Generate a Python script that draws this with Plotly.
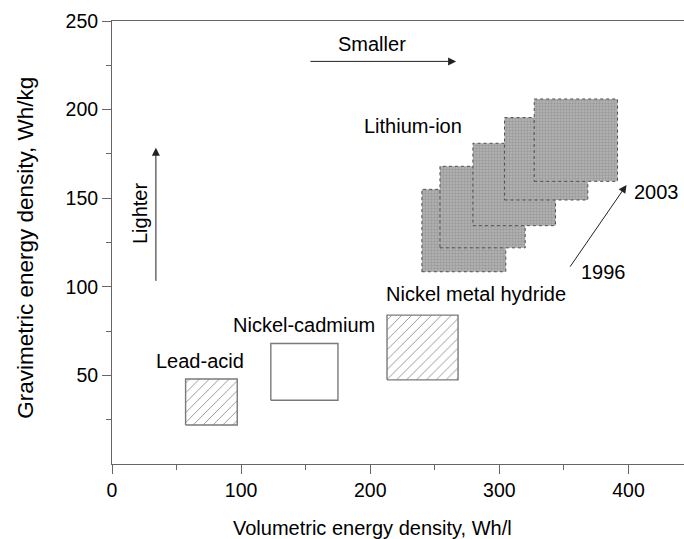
import plotly.graph_objects as go

# Energy-density windows of the main rechargeable chemistries
chemistries = ["Lead-acid", "Nickel-cadmium", "Nickel metal hydride"]
vol_lo = [57, 123, 213]      # Wh/l
vol_hi = [97, 175, 268]
grav_lo = [22, 36, 47.5]     # Wh/kg
grav_hi = [48, 68, 84]
fill_style = ["hatch", "open", "hatch"]

# Lithium-ion windows, 1996 -> 2003
li_vol_lo = [240, 254, 279.5, 304, 327]
li_vol_hi = [305, 320, 343.5, 368.5, 391.5]
li_grav_lo = [108.5, 122, 134.5, 149, 159.5]
li_grav_hi = [155, 168, 181, 195.5, 206]

x_ticks = [0, 100, 200, 300, 400]
y_ticks = [50, 100, 150, 200, 250]

FONT = "Liberation Sans, Arial, sans-serif"
EDGE = "#7a7a7a"

fig = go.Figure()


def box(x0, x1, y0, y1):
    return [x0, x1, x1, x0, x0], [y0, y0, y1, y1, y0]


for name, a, b, c, d, style in zip(chemistries, vol_lo, vol_hi, grav_lo, grav_hi, fill_style):
    xs, ys = box(a, b, c, d)
    kw = dict(fill="toself", fillcolor="white")
    if style == "hatch":
        kw["fillpattern"] = dict(shape="/", fgcolor="#333333", bgcolor="white",
                                 size=7, solidity=0.14)
    fig.add_trace(go.Scatter(x=xs, y=ys, mode="lines", name=name,
                             line=dict(color=EDGE, width=1.4), hoverinfo="skip", **kw))

for a, b, c, d in zip(li_vol_lo, li_vol_hi, li_grav_lo, li_grav_hi):
    xs, ys = box(a, b, c, d)
    fig.add_trace(go.Scatter(x=xs, y=ys, mode="lines", fill="toself",
                             fillcolor="#aaaaaa",
                             fillpattern=dict(shape=".", fgcolor="#7e7e7e", bgcolor="#b6b6b6",
                                              size=3, solidity=0.5),
                             line=dict(color="#505050", width=1, dash="dot"),
                             hoverinfo="skip"))

# Labels
labels = [
    ("Lead-acid", 68, 58),
    ("Nickel-cadmium", 148.5, 78.5),
    ("Nickel metal hydride", 282, 96),
    ("Lithium-ion", 233, 191),
    ("1996", 381, 108.5),
    ("2003", 421.5, 153.5),
    ("Smaller", 201, 237),
]
annotations = []
for text, x, y in labels:
    annotations.append(dict(x=x, y=y, xref="x", yref="y", text=text, showarrow=False,
                            font=dict(size=20, color="black", family=FONT)))
annotations.append(dict(x=21.5, y=141.5, xref="x", yref="y", text="Lighter", textangle=-90,
                        showarrow=False, font=dict(size=20, color="black", family=FONT)))

# Direction arrows
arrows = [
    ((152.5, 227.2), (266.5, 227.2)),
    ((34, 102.5), (34, 178.5)),
    ((354, 110.5), (398.5, 157.5)),
]
for (x0, y0), (x1, y1) in arrows:
    annotations.append(dict(x=x1, y=y1, ax=x0, ay=y0, xref="x", yref="y", axref="x", ayref="y",
                            text="", showarrow=True, arrowhead=2, arrowsize=1.6,
                            arrowwidth=1, arrowcolor="#222222"))

# Axis titles
annotations.append(dict(x=0.455, y=0, xref="paper", yref="paper", text="Volumetric energy density, Wh/l",
                        showarrow=False, yshift=-64, xanchor="center", yanchor="middle",
                        font=dict(size=20, color="black", family=FONT)))
annotations.append(dict(x=0, y=0.488, xref="paper", yref="paper", text="Gravimetric energy density, Wh/kg",
                        showarrow=False, textangle=-90, xshift=-86, xanchor="center", yanchor="middle",
                        font=dict(size=22.5, color="black", family=FONT)))

fig.update_layout(
    width=684, height=539,
    margin=dict(l=112, r=0, t=21, b=75),
    paper_bgcolor="white", plot_bgcolor="white",
    showlegend=False,
    annotations=annotations,
    font=dict(family=FONT, size=19, color="black"),
)
fig.update_xaxes(range=[0, 443], tickvals=x_ticks, ticks="outside", ticklen=9, tickwidth=1,
                 tickcolor="#666", showline=True, linecolor="#666", linewidth=1, mirror=True,
                 showgrid=False, zeroline=False,
                 minor=dict(tickvals=[50, 150, 250, 350], ticks="outside", ticklen=5,
                            tickcolor="#666"),
                 tickfont=dict(size=19.5, family=FONT, color="black"))
fig.update_yaxes(range=[0, 250], tickvals=y_ticks, ticks="outside", ticklen=9, tickwidth=1,
                 tickcolor="#666", showline=True, linecolor="#666", linewidth=1,
                 showgrid=False, zeroline=False,
                 minor=dict(tickvals=[25, 75, 125, 175, 225], ticks="outside", ticklen=5,
                            tickcolor="#666"),
                 tickfont=dict(size=19.5, family=FONT, color="black"))

fig.write_html("out.html")
